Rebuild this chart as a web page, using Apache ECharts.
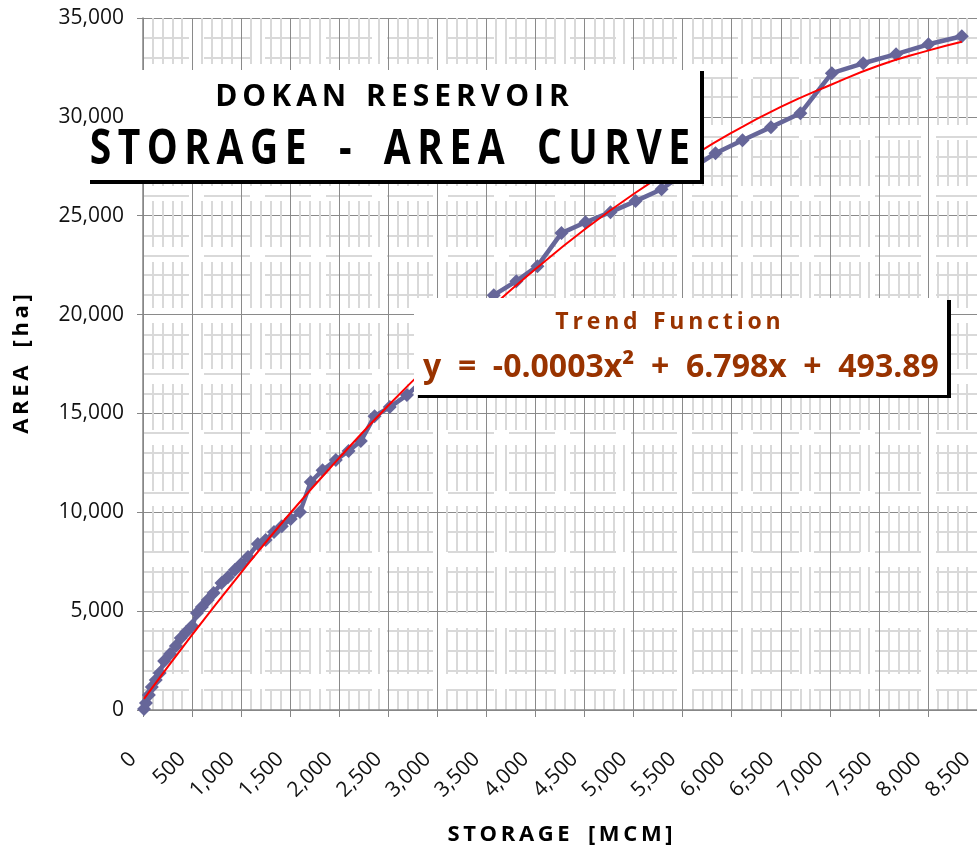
<!DOCTYPE html>
<html><head><meta charset="utf-8">
<script src="https://cdn.jsdelivr.net/npm/echarts@6/dist/echarts.min.js"></script>
<style>html,body{margin:0;padding:0;background:#fff}#c{width:977px;height:853px}</style>
</head><body><div id="c"></div>
<script>
// ---- data ----
const storage = [10, 30, 60, 90, 130, 170, 215, 275, 335, 385, 440, 500, 550, 600, 660, 720, 800, 865, 935, 1000, 1070, 1170, 1250, 1335, 1415, 1505, 1600, 1710, 1830, 1965, 2095, 2220, 2360, 2515, 2690, 2900, 3120, 3340, 3575, 3805, 4020, 4265, 4510, 4765, 5020, 5285, 5560, 5835, 6110, 6400, 6700, 7020, 7340, 7675, 8005, 8345];
const area =    [50, 350, 760, 1160, 1520, 1870, 2480, 2830, 3240, 3640, 3940, 4250, 4900, 5210, 5560, 5920, 6420, 6720, 7080, 7380, 7740, 8390, 8600, 9000, 9300, 9660, 10010, 11530, 12130, 12640, 13100, 13600, 14860, 15320, 15930, 16900, 18050, 19550, 20980, 21690, 22450, 24120, 24670, 25180, 25740, 26340, 27300, 28160, 28820, 29480, 30180, 32210, 32710, 33170, 33670, 34080];
const trendStorage = [10, 500, 1000, 1500, 2000, 2500, 3000, 3500, 4000, 4500, 5000, 5500, 6000, 6500, 7000, 7500, 8000, 8345];
const trendArea =    [560, 3800, 6950, 9950, 12750, 15400, 17850, 20150, 22300, 24300, 26100, 27700, 29200, 30500, 31600, 32600, 33350, 33800];
const xAxisRange = [0, 8500, 500];
const yAxisRange = [0, 35000, 5000];
const titleLine1 = 'DOKAN RESERVOIR';
const titleLine2 = 'STORAGE - AREA CURVE';
const trendTitle = 'Trend Function';
const trendEquation = 'y = -0.0003x² + 6.798x + 493.89';
const xName = 'STORAGE [MCM]';
const yName = 'AREA [ha]';

const FONT = '"Open Sans", "Noto Sans", sans-serif';
const TS = '\u2009';
function spaced(s, gap, wordGap) {
  return s.split('').map(ch => ch === ' ' ? wordGap : ch).join(gap);
}
const fmt = v => v.toLocaleString('en-US');
const minorDash = [46, 15];

const chart = echarts.init(document.getElementById('c'), null, {renderer: 'canvas'});
const option = {
  animation: false,
  backgroundColor: '#ffffff',
  grid: {left: 143, right: 0, top: 18, bottom: 143, containLabel: false},
  xAxis: {
    type: 'value', min: xAxisRange[0], max: xAxisRange[1], interval: xAxisRange[2],
    name: spaced(xName, TS, TS + TS + TS),
    nameLocation: 'middle', nameGap: 114,
    nameTextStyle: {fontFamily: FONT, fontWeight: 'bold', fontSize: 22, color: '#000'},
    axisLine: {show: true, onZero: false, lineStyle: {color: '#868686', width: 1.5}},
    axisTick: {show: true, inside: false, length: 7, lineStyle: {color: '#868686'}},
    axisLabel: {
      rotate: 45, margin: 36, color: '#111', showMaxLabel: true, showMinLabel: true,
      formatter: v => '{t|' + fmt(v) + '}',
      rich: {t: {fontFamily: FONT, fontSize: 21, color: '#111', padding: [0, 14, 0, 0]}}
    },
    splitLine: {show: true, lineStyle: {color: '#8a8a8a', width: 1}},
    minorTick: {show: false, splitNumber: 5},
    minorSplitLine: {show: true, lineStyle: {color: '#d9d9d9', width: 2, type: minorDash, cap: 'butt'}}
  },
  yAxis: {
    type: 'value', min: yAxisRange[0], max: yAxisRange[1], interval: yAxisRange[2],
    name: spaced(yName, TS, TS + TS + TS),
    nameLocation: 'middle', nameGap: 110, nameRotate: 90,
    nameTextStyle: {fontFamily: FONT, fontWeight: 'bold', fontSize: 22, color: '#000'},
    axisLine: {show: true, onZero: false, lineStyle: {color: '#868686', width: 1.5}},
    axisTick: {show: true, inside: false, length: 6, lineStyle: {color: '#868686'}},
    axisLabel: {margin: 19, fontFamily: FONT, fontSize: 21, color: '#111', formatter: fmt},
    splitLine: {show: true, lineStyle: {color: '#8a8a8a', width: 1}},
    minorTick: {show: false, splitNumber: 5},
    minorSplitLine: {show: true, lineStyle: {color: '#d9d9d9', width: 2, type: minorDash, cap: 'butt'}}
  },
  series: [
    {
      type: 'line', name: 'Area',
      data: storage.map((s, i) => [s, area[i]]),
      symbol: 'diamond', symbolSize: 14,
      itemStyle: {color: '#666699'},
      lineStyle: {color: '#666699', width: 4.5},
      z: 3
    },
    {
      type: 'line', name: 'Trend',
      data: trendStorage.map((s, i) => [s, trendArea[i]]),
      smooth: true, showSymbol: false, symbol: 'none',
      lineStyle: {color: '#ff0000', width: 2},
      z: 4
    }
  ],
  graphic: [
    // title box (white panel, black right/bottom edge)
    {type: 'rect', z: 101, shape: {x: 124, y: 70, width: 576, height: 110}, style: {fill: '#fff'}},
    {type: 'rect', z: 101, shape: {x: 700, y: 71, width: 4, height: 113}, style: {fill: '#000'}},
    {type: 'rect', z: 101, shape: {x: 90, y: 180, width: 614, height: 4}, style: {fill: '#000'}},
    {type: 'text', z: 102, x: 392, y: 97, style: {text: spaced(titleLine1, TS, TS + TS), font: 'bold 30px ' + FONT, fill: '#000', align: 'center', verticalAlign: 'middle'}},
    {type: 'text', z: 102, x: 390, y: 150, scaleY: 1.22, style: {text: spaced(titleLine2, TS, TS + TS + TS), font: 'bold 39px ' + FONT, fill: '#000', align: 'center', verticalAlign: 'middle'}},
    // trend box
    {type: 'rect', z: 101, shape: {x: 414, y: 298, width: 533, height: 97}, style: {fill: '#fff'}},
    {type: 'rect', z: 101, shape: {x: 947, y: 300, width: 4, height: 98}, style: {fill: '#000'}},
    {type: 'rect', z: 101, shape: {x: 418, y: 395, width: 533, height: 3}, style: {fill: '#000'}},
    {type: 'text', z: 102, x: 668, y: 322, style: {text: spaced(trendTitle, TS, TS + TS), font: 'bold 23px ' + FONT, fill: '#993300', align: 'center', verticalAlign: 'middle'}},
    {type: 'text', z: 102, x: 681, y: 368, style: {text: trendEquation.replace(/ /g, '  '), font: 'bold 32px ' + FONT, fill: '#993300', align: 'center', verticalAlign: 'middle'}}
  ]
};
chart.setOption(option);
</script>
</body></html>
